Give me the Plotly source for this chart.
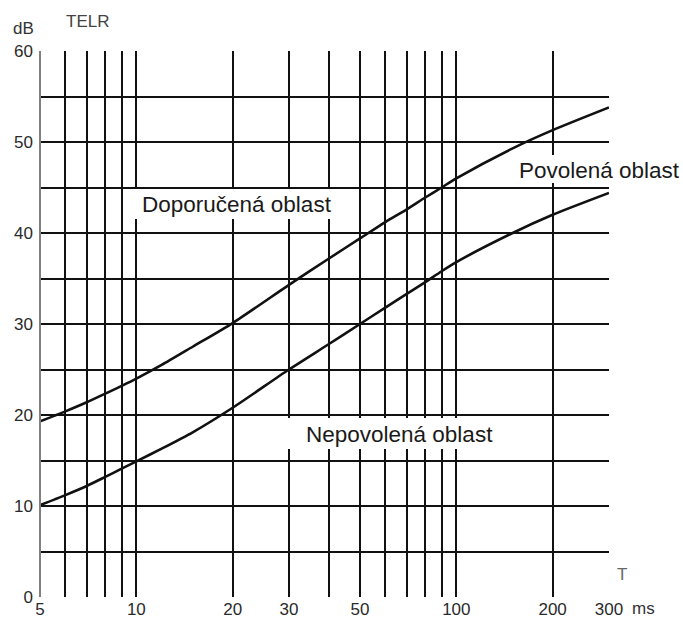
import math
import plotly.graph_objects as go

# One-way delay T (ms) and TELR limits (dB)
delay_ms = [5, 6, 7, 8, 9, 10, 12, 15, 20, 30, 40, 50, 60, 70, 80, 90, 100, 150, 200, 300]
telr_preferred = [19.3, 20.4, 21.4, 22.35, 23.2, 24.0, 25.5, 27.5, 30.1, 34.3, 37.2, 39.4,
                  41.2, 42.6, 43.9, 45.0, 46.0, 49.3, 51.3, 53.8]
telr_acceptable = [10.1, 11.2, 12.2, 13.2, 14.1, 14.9, 16.3, 18.1, 20.8, 25.0, 27.8, 30.0,
                   31.8, 33.3, 34.6, 35.8, 36.8, 40.0, 42.0, 44.4]

x_grid = [5, 6, 7, 8, 9, 10, 20, 30, 40, 50, 60, 70, 80, 90, 100, 200, 300]
x_labels = {5: "5", 10: "10", 20: "20", 30: "30", 50: "50", 100: "100", 200: "200", 300: "300"}
y_grid = list(range(0, 65, 5))
y_labels = {v: str(v) for v in range(0, 70, 10)}

region_labels = ["Doporučená oblast", "Nepovolená oblast", "Povolená oblast"]

FONT = "Liberation Sans, Arial, sans-serif"

fig = go.Figure()
for ys in (telr_preferred, telr_acceptable):
    fig.add_trace(go.Scatter(
        x=delay_ms, y=ys, mode="lines",
        line=dict(color="#111111", width=2.6, shape="spline", smoothing=0.7),
        hoverinfo="skip", showlegend=False,
    ))

W, H = 683, 619
L, R, T, B = 40, 609, 51, 597


def px(x):
    return (x - L) / (R - L)


def py(y):
    return (B - y) / (B - T)


# white panels behind region names (interrupt the grid)
boxes = [(129, 341, 189, 219), (282, 510, 418, 449), (510, 690, 155, 183)]
shapes = []
for x0, x1, y0, y1 in boxes:
    shapes.append(dict(type="rect", xref="paper", yref="paper",
                       x0=px(x0), x1=px(x1), y0=py(y1), y1=py(y0),
                       fillcolor="white", line=dict(width=0), layer="above"))
# left frame edge in grey
shapes.append(dict(type="line", xref="paper", yref="paper", x0=0, x1=0, y0=0, y1=1,
                   line=dict(color="#808080", width=2), layer="above"))

annotations = []
label_pos = [(237, 204), (399, 434), (599, 170)]
for text, (cx, cy) in zip(region_labels, label_pos):
    annotations.append(dict(text=text, xref="paper", yref="paper", x=px(cx), y=py(cy),
                            showarrow=False, xanchor="center", yanchor="middle",
                            font=dict(family=FONT, size=22.5, color="#1a1a1a")))
for text, (cx, cy), size, col in [("dB", (23, 29), 17, "#333333"),
                                   ("TELR", (87, 22), 17, "#444444"),
                                   ("T", (622, 574), 17, "#666666"),
                                   ("ms", (644, 608), 17, "#333333")]:
    annotations.append(dict(text=text, xref="paper", yref="paper", x=px(cx), y=py(cy),
                            showarrow=False, xanchor="center", yanchor="middle",
                            font=dict(family=FONT, size=size, color=col)))

fig.update_layout(
    width=W, height=H,
    margin=dict(l=L, r=W - R, t=T, b=H - B, pad=0, autoexpand=False),
    paper_bgcolor="white", plot_bgcolor="white",
    shapes=shapes, annotations=annotations,
    font=dict(family=FONT, color="#333333"),
    xaxis=dict(
        type="log", range=[math.log10(5), math.log10(300)],
        tickvals=x_grid, ticktext=[x_labels.get(v, "") for v in x_grid],
        showgrid=True, gridcolor="#111111", gridwidth=2,
        showline=False, zeroline=False, ticks="", automargin=False,
        tickfont=dict(size=17, color="#2a2a2a"), ticklabelstandoff=0,
    ),
    yaxis=dict(
        range=[0, 60],
        tickvals=y_grid, ticktext=[y_labels.get(v, "") for v in y_grid],
        showgrid=True, gridcolor="#111111", gridwidth=2,
        showline=False, zeroline=False, ticks="", automargin=False,
        tickfont=dict(size=17, color="#2a2a2a"), ticklabelstandoff=6,
    ),
)

fig.write_html("out.html")
